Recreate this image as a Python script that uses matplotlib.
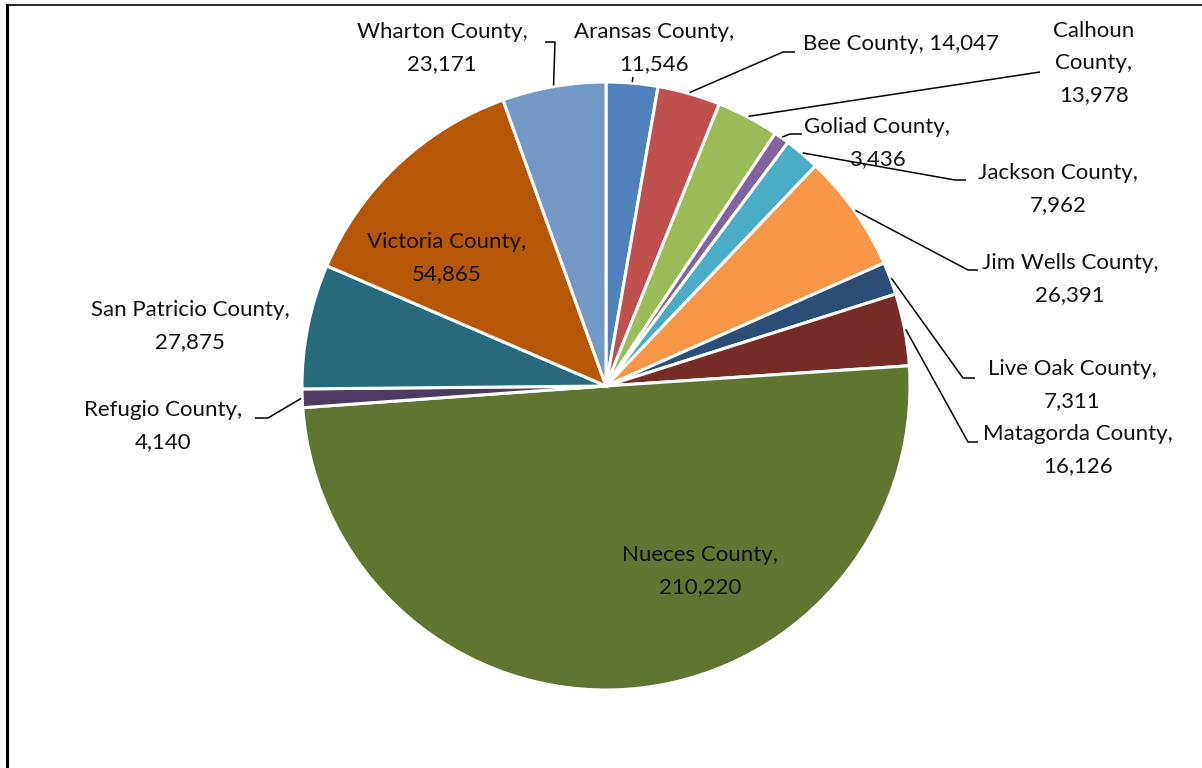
import numpy as np
import matplotlib.pyplot as plt

plt.rcParams['font.family'] = ['Lato', 'DejaVu Sans']

counties = ['Aransas County', 'Bee County', 'Calhoun County', 'Goliad County',
            'Jackson County', 'Jim Wells County', 'Live Oak County',
            'Matagorda County', 'Nueces County', 'Refugio County',
            'San Patricio County', 'Victoria County', 'Wharton County']
population = [11546, 14047, 13978, 3436, 7962, 26391, 7311, 16126, 210220,
              4140, 27875, 54865, 23171]
colors = ['#4F81BD', '#C0504D', '#9BBB59', '#8064A2', '#4BACC6', '#F79646',
          '#2C4D75', '#772C2A', '#5F7530', '#4D3B62', '#276A7C', '#B65708',
          '#7399C6']

W, H = 1202, 768
cx, cy, R = 606, 386, 304


def px(x, y):
    # image pixel coords (y down) -> data coords (y up)
    return x, H - y


# label layout: text centre (image px), line breaks, leader elbow + end
labels = {
    'Aransas County': dict(pos=(654, 48), text='Aransas County,\n{}', leader=[(633, 77)]),
    'Bee County': dict(pos=(901, 44), text='Bee County, {}', leader=[(783, 52), (795, 52)]),
    'Calhoun County': dict(pos=(1094, 63), text='Calhoun\nCounty,\n{}', leader=[(1040, 72)]),
    'Goliad County': dict(pos=(877, 143), text='Goliad County,\n{}', leader=[(790, 134), (802, 134)]),
    'Jackson County': dict(pos=(1058, 189), text='Jackson County,\n{}', leader=[(955, 180), (966, 180)]),
    'Jim Wells County': dict(pos=(1070, 279), text='Jim Wells County,\n{}', leader=[(968, 270), (978, 270)]),
    'Live Oak County': dict(pos=(1072, 385), text='Live Oak County,\n{}', leader=[(963, 378), (975, 378)]),
    'Matagorda County': dict(pos=(1078, 450), text='Matagorda County,\n{}', leader=[(968, 442), (978, 442)]),
    'Nueces County': dict(pos=(700, 571), text='Nueces County,\n{}', leader=None),
    'Refugio County': dict(pos=(163, 426), text='Refugio County,\n{}', leader=[(268, 418), (255, 418)]),
    'San Patricio County': dict(pos=(190, 326), text='San Patricio County,\n{}', leader=None),
    'Victoria County': dict(pos=(447, 258), text='Victoria County,\n{}', leader=None),
    'Wharton County': dict(pos=(442, 48), text='Wharton County,\n{}', leader=[(555, 42), (545, 42)]),
}

fig = plt.figure(figsize=(W / 100, H / 100), dpi=100)
ax = fig.add_axes([0, 0, 1, 1])

wedges, _ = ax.pie(population, colors=colors, startangle=90, counterclock=False,
                   center=px(cx, cy), radius=R,
                   wedgeprops=dict(edgecolor='white', linewidth=2.2))
ax.set_xlim(0, W)
ax.set_ylim(0, H)
ax.set_aspect('equal')
ax.axis('off')

for name, val, w in zip(counties, population, wedges):
    lab = labels[name]
    tx, ty = px(*lab['pos'])
    ax.text(tx, ty, lab['text'].format(f'{val:,}'), ha='center', va='center',
            fontsize=16, color='#111111', linespacing=1.75)
    if lab['leader']:
        ang = np.deg2rad((w.theta1 + w.theta2) / 2)
        sx, sy = w.center[0] + (R + 1) * np.cos(ang), w.center[1] + (R + 1) * np.sin(ang)
        pts = [(sx, sy)] + [px(*p) for p in lab['leader']]
        xs, ys = zip(*pts)
        ax.plot(xs, ys, color='black', lw=1.1, solid_capstyle='butt')

# chart frame (left and top edges visible)
ax.plot([7, 7], [0, H - 5], color='black', lw=2.2)
ax.plot([7, W], [H - 5, H - 5], color='black', lw=1.2)

fig.savefig('out.png', dpi=100)
